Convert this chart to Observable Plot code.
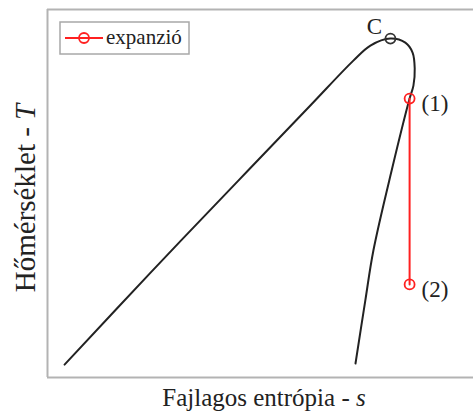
<!DOCTYPE html>
<html>
<head>
<meta charset="utf-8">
<script src="https://cdn.jsdelivr.net/npm/d3@7"></script>
<script src="https://cdn.jsdelivr.net/npm/@observablehq/plot@0.6"></script>
<style>
  html, body { margin: 0; padding: 0; background: #fff; overflow: hidden; }
  #chart svg { display: block; }
</style>
</head>
<body>
<div id="chart"></div>
<script>
// Saturation curve (entropy s, temperature T), arbitrary units
const sCurve = [0.40, 2.42, 4.48, 6.17, 7.18, 7.58, 8.05, 8.40, 8.57, 8.62, 8.59, 8.50, 8.08, 7.65, 7.46, 7.23];
const TCurve = [3.5, 28.5, 53.5, 73.9, 86.1, 90.2, 92.1, 91.0, 88.3, 84.0, 79.3, 75.8, 56.3, 34.5, 20.9, 3.8];

// Critical point
const critS = [8.05];
const critT = [92.1];
const critLabel = ["C"];

// Expansion (1) -> (2)
const expS = [8.50, 8.50];
const expT = [75.8, 25.3];
const expLabel = ["(1)", "(2)"];

const legendLabel = "expanzió";
const xLabel = "Fajlagos entrópia - ";
const xSymbol = "s";
const yLabel = "Hőmérséklet - ";
const ySymbol = "T";

const curve = sCurve.map((s, i) => ({s, T: TCurve[i]}));
const crit = critS.map((s, i) => ({s, T: critT[i], label: critLabel[i]}));
const expansion = expS.map((s, i) => ({s, T: expT[i], label: expLabel[i]}));

const W = 473, H = 414;
const serif = "'Liberation Serif', 'Times New Roman', serif";

const plot = Plot.plot({
  width: W,
  height: H,
  marginLeft: 47,
  marginRight: 0,
  marginTop: 9,
  marginBottom: 37,
  x: {domain: [0, 10], axis: null},
  y: {domain: [0, 100], axis: null},
  style: {fontFamily: serif, background: "#fff"},
  marks: [
    Plot.ruleY([0, 100], {stroke: "#b3b3b3", strokeWidth: 2}),
    Plot.ruleX([0], {stroke: "#b3b3b3", strokeWidth: 2}),
    Plot.line(curve, {x: "s", y: "T", stroke: "#222", strokeWidth: 2, curve: "catmull-rom"}),
    Plot.dot(crit, {x: "s", y: "T", r: 5, stroke: "#333", strokeWidth: 1.8, fill: "none"}),
    Plot.text(crit, {x: "s", y: "T", text: "label", dx: -16, dy: -12, fontSize: 23, fill: "#222"}),
    Plot.line(expansion, {x: "s", y: "T", stroke: "#ff2020", strokeWidth: 2}),
    Plot.dot(expansion, {x: "s", y: "T", r: 5, stroke: "#ff2020", strokeWidth: 1.8, fill: "none"}),
    Plot.text(expansion, {x: "s", y: "T", text: "label", textAnchor: "start", dx: 12, dy: 5, fontSize: 23, fill: "#222"})
  ]
});

document.getElementById("chart").appendChild(plot);

const svg = d3.select(plot);

// Legend (inside the frame, top-left)
const lg = svg.append("g").attr("class", "legend");
lg.append("rect").attr("x", 60).attr("y", 22).attr("width", 129).attr("height", 32)
  .attr("fill", "#fff").attr("stroke", "#a8a8a8").attr("stroke-width", 1.5);
lg.append("line").attr("x1", 65).attr("x2", 103).attr("y1", 38).attr("y2", 38)
  .attr("stroke", "#ff2020").attr("stroke-width", 2);
lg.append("circle").attr("cx", 84).attr("cy", 38).attr("r", 5)
  .attr("fill", "none").attr("stroke", "#ff2020").attr("stroke-width", 1.8);
lg.append("text").attr("x", 106).attr("y", 44).attr("font-size", 21)
  .attr("text-anchor", "start")
  .attr("font-family", serif).attr("fill", "#222").text(legendLabel);

// Axis labels with italic symbols
const xt = svg.append("text").attr("x", 264).attr("y", 406).attr("text-anchor", "middle")
  .attr("font-size", 25).attr("font-family", serif).attr("fill", "#222");
xt.append("tspan").text(xLabel);
xt.append("tspan").attr("font-style", "italic").text(xSymbol);

const yt = svg.append("text").attr("transform", "translate(35,198) rotate(-90)")
  .attr("text-anchor", "middle").attr("font-size", 29).attr("font-family", serif).attr("fill", "#222");
yt.append("tspan").text(yLabel);
yt.append("tspan").attr("font-style", "italic").text(ySymbol);
</script>
</body>
</html>
